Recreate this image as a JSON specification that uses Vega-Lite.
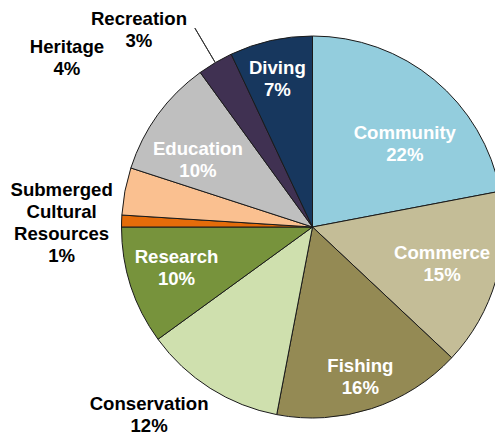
{
  "$schema": "https://vega.github.io/schema/vega-lite/v6.json",
  "width": 625,
  "height": 454,
  "autosize": {"type": "none"},
  "padding": {"left": 0, "top": 0, "right": -130, "bottom": -16},
  "background": "white",
  "view": {"stroke": null},
  "config": {"text": {"font": "Liberation Sans", "fontWeight": "bold", "fontSize": 18.6, "lineHeight": 22, "lineBreak": " ", "align": "center", "baseline": "middle"}},
  "data": {"values": [
    {"category": "Community", "value": 22},
    {"category": "Commerce", "value": 15},
    {"category": "Fishing", "value": 16},
    {"category": "Conservation", "value": 12},
    {"category": "Research", "value": 10},
    {"category": "Submerged Cultural Resources", "value": 1},
    {"category": "Heritage", "value": 4},
    {"category": "Education", "value": 10},
    {"category": "Recreation", "value": 3},
    {"category": "Diving", "value": 7}
  ]},
  "transform": [
    {"window": [{"op": "row_number", "as": "idx"}]},
    {"calculate": "datum.category + ' ' + datum.value + '%'", "as": "label"}
  ],
  "encoding": {
    "theta": {"field": "value", "type": "quantitative", "stack": true},
    "order": {"field": "idx", "type": "quantitative"},
    "detail": {"field": "category", "type": "nominal"}
  },
  "layer": [
    {
      "mark": {"type": "arc", "radius": 191, "stroke": "#1a1a1a", "strokeWidth": 1},
      "encoding": {
        "color": {"field": "category", "type": "nominal", "legend": null,
          "scale": {
            "domain": ["Community", "Commerce", "Fishing", "Conservation", "Research", "Submerged Cultural Resources", "Heritage", "Education", "Recreation", "Diving"],
            "range": ["#93CDDD", "#C4BD97", "#948A54", "#CFE0AE", "#77933C", "#E46C0A", "#FAC090", "#BFBFBF", "#403152", "#17375E"]
          }}
      }
    },
    {
      "mark": {"type": "arc", "radius": 231, "radius2": 191, "padAngle": 3, "fill": null, "stroke": "#333333", "strokeWidth": 1},
      "encoding": {
        "strokeOpacity": {"condition": {"test": "datum.category === 'Recreation'", "value": 1}, "value": 0}
      }
    },
    {
      "mark": {"type": "text", "radius": 126, "dx": 12, "dy": 3, "color": "white"},
      "encoding": {"text": {"condition": {"test": "datum.category === 'Community'", "field": "label"}, "value": ""}}
    },
    {
      "mark": {"type": "text", "radius": 135, "dx": 0, "dy": -12, "color": "white"},
      "encoding": {"text": {"condition": {"test": "datum.category === 'Commerce'", "field": "label"}, "value": ""}}
    },
    {
      "mark": {"type": "text", "radius": 158, "dx": -1, "dy": -11, "color": "white"},
      "encoding": {"text": {"condition": {"test": "datum.category === 'Fishing'", "field": "label"}, "value": ""}}
    },
    {
      "mark": {"type": "text", "radius": 249, "dx": -30, "dy": -33, "color": "black"},
      "encoding": {"text": {"condition": {"test": "datum.category === 'Conservation'", "field": "label"}, "value": ""}}
    },
    {
      "mark": {"type": "text", "radius": 143, "dx": 0, "dy": -14, "color": "white"},
      "encoding": {"text": {"condition": {"test": "datum.category === 'Research'", "field": "label"}, "value": ""}}
    },
    {
      "mark": {"type": "text", "radius": 251, "dx": 0, "dy": -29, "color": "black"},
      "encoding": {"text": {"condition": {"test": "datum.category === 'Submerged Cultural Resources'", "field": "label"}, "value": ""}}
    },
    {
      "mark": {"type": "text", "radius": 250, "dx": 0, "dy": -133, "color": "black"},
      "encoding": {"text": {"condition": {"test": "datum.category === 'Heritage'", "field": "label"}, "value": ""}}
    },
    {
      "mark": {"type": "text", "radius": 133, "dx": -7, "dy": 0, "color": "white"},
      "encoding": {"text": {"condition": {"test": "datum.category === 'Education'", "field": "label"}, "value": ""}}
    },
    {
      "mark": {"type": "text", "radius": 229, "dx": -57, "dy": -11, "color": "black"},
      "encoding": {"text": {"condition": {"test": "datum.category === 'Recreation'", "field": "label"}, "value": ""}}
    },
    {
      "mark": {"type": "text", "radius": 152, "dx": -2, "dy": -11, "color": "white"},
      "encoding": {"text": {"condition": {"test": "datum.category === 'Diving'", "field": "label"}, "value": ""}}
    }
  ]
}
